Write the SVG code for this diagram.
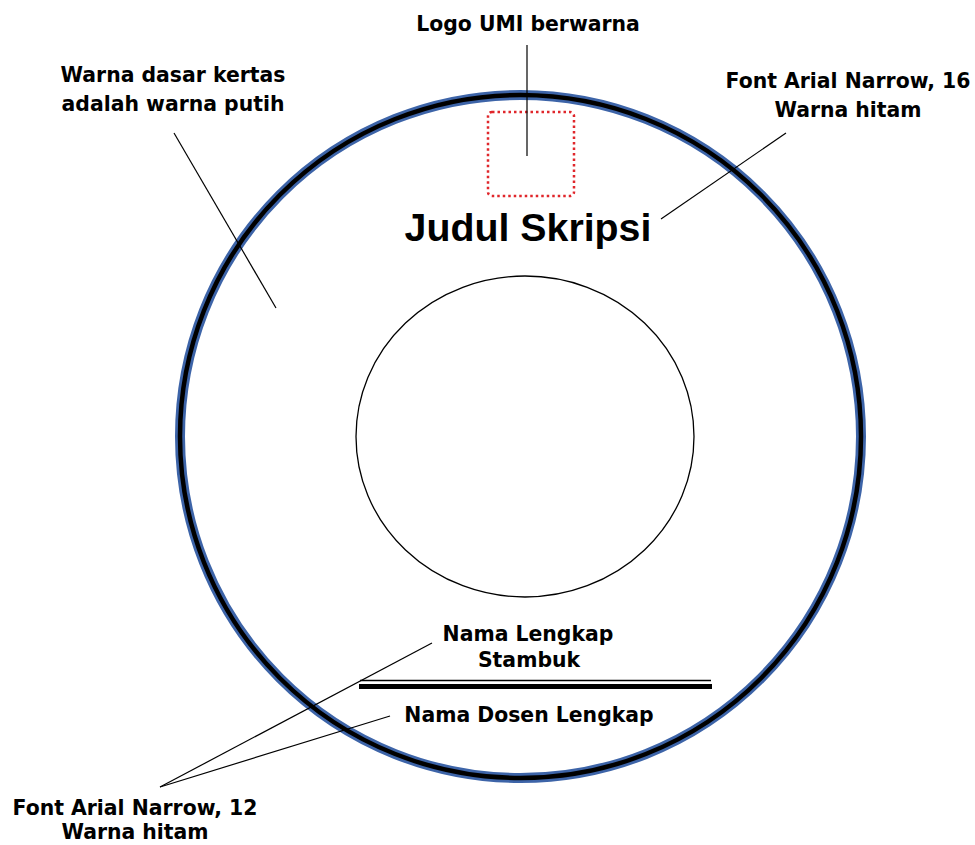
<svg xmlns="http://www.w3.org/2000/svg" width="975" height="845" viewBox="0 0 975 845">
<style>
.lbl{font-family:"DejaVu Sans","Liberation Sans",sans-serif;font-weight:bold;font-size:20.4px;fill:#000;text-anchor:middle}
.lead{stroke:#000;stroke-width:1.2;fill:none}
</style>
<rect width="975" height="845" fill="#fff"/>
<g id="disc">
<ellipse cx="520.5" cy="436.5" rx="340.5" ry="341.5" fill="none" stroke="#3d64a8" stroke-width="10"/>
<ellipse cx="520.5" cy="436.5" rx="340.5" ry="341.5" fill="none" stroke="#000" stroke-width="4.5"/>
</g>
<g id="hole">
<ellipse cx="525" cy="436.5" rx="169" ry="160.5" fill="none" stroke="#000" stroke-width="1.3"/>
</g>
<g id="logo">
<rect x="488" y="112" width="86" height="84" rx="4" fill="none" stroke="#e0262b" stroke-width="2.5" stroke-dasharray="2.5 3"/>
</g>
<g id="title">
<text x="528" y="241" style="font-family:'Liberation Sans',Arial,sans-serif;font-weight:bold;font-size:39.3px;text-anchor:middle;fill:#000">Judul Skripsi</text>
</g>
<g id="names">
<text class="lbl" x="528" y="641">Nama Lengkap</text>
<text class="lbl" x="529" y="667">Stambuk</text>
<line x1="360" y1="680.5" x2="711" y2="680.5" stroke="#000" stroke-width="1.5"/>
<line x1="359" y1="686.5" x2="712" y2="686.5" stroke="#000" stroke-width="5"/>
<text class="lbl" x="529" y="722">Nama Dosen Lengkap</text>
</g>
<g id="note-paper">
<text class="lbl" x="173" y="82">Warna dasar kertas</text>
<text class="lbl" x="173" y="111">adalah warna putih</text>
</g>
<g id="note-logo">
<text class="lbl" x="528" y="31">Logo UMI berwarna</text>
</g>
<g id="note-font16">
<text class="lbl" x="848" y="88">Font Arial Narrow, 16</text>
<text class="lbl" x="848" y="117">Warna hitam</text>
</g>
<g id="note-font12">
<text class="lbl" x="135" y="815">Font Arial Narrow, 12</text>
<text class="lbl" x="135" y="839">Warna hitam</text>
</g>
<g id="connectors">
<line class="lead" x1="527" y1="45" x2="527" y2="156"/>
<line class="lead" x1="174" y1="133" x2="276" y2="308"/>
<line class="lead" x1="786" y1="133" x2="661" y2="219"/>
<line class="lead" x1="160" y1="787" x2="432" y2="643"/>
<line class="lead" x1="160" y1="787" x2="390" y2="716"/>
</g>
</svg>
